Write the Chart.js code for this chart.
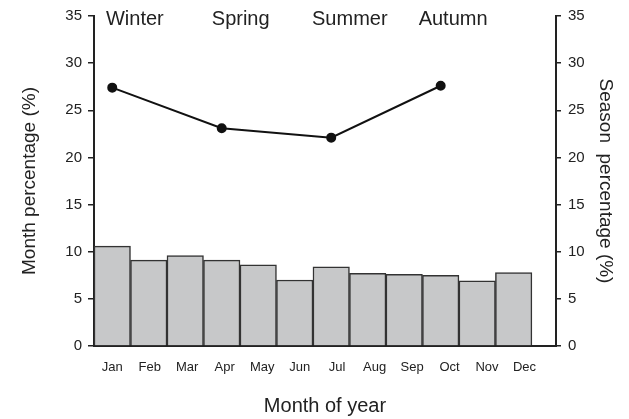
<!DOCTYPE html>
<html>
<head>
<meta charset="utf-8">
<script src="https://cdn.jsdelivr.net/npm/chart.js@4.4.0/dist/chart.umd.min.js"></script>
<style>
  html, body { margin: 0; padding: 0; background: #fff; }
  #wrap { width: 629px; height: 419px; position: relative; }
</style>
</head>
<body>
<div id="wrap"><canvas id="grafico"></canvas></div>
<script>
// ===== DADOS =====
const months = ['Jan', 'Feb', 'Mar', 'Apr', 'May', 'Jun', 'Jul', 'Aug', 'Sep', 'Oct', 'Nov', 'Dec'];
const monthPct = [10.6, 9.1, 9.6, 9.1, 8.6, 7.0, 8.4, 7.7, 7.6, 7.5, 6.9, 7.8];
const seasons = ['Winter', 'Spring', 'Summer', 'Autumn'];
const seasonMonth = [1, 4, 7, 10];   // month number where each season point sits
const seasonPct = [27.4, 23.1, 22.1, 27.6];

const FONT = '"Liberation Sans", Arial, Helvetica, sans-serif';
const INK = '#222';

// season names across the top of the plot
const seasonLabels = {
  id: 'seasonLabels',
  afterDatasetsDraw(chart, args, opts) {
    const { ctx, scales: { x } } = chart;
    ctx.save();
    ctx.font = '20px ' + FONT;
    ctx.fillStyle = INK;
    ctx.textAlign = 'center';
    ctx.textBaseline = 'alphabetic';
    seasons.forEach((s, i) => ctx.fillText(s, x.getPixelForValue(opts.at[i]), opts.baseline));
    ctx.restore();
  }
};

const yAxis = (pos, titulo, tituloPad, tl, pad, largura) => ({
  position: pos,
  min: 0,
  max: 35,
  ticks: { stepSize: 5, color: INK, font: { family: FONT, size: 15 }, padding: pad },
  grid: { drawOnChartArea: false, drawTicks: true, tickLength: tl, color: INK, lineWidth: 1.5 },
  border: { display: true, color: INK, width: 2 },
  title: { display: true, text: titulo, color: INK, font: { family: FONT, size: 19 }, padding: { top: tituloPad, bottom: 0 } },
  afterFit: s => { s.width = largura; }
});

new Chart(document.getElementById('grafico'), {
  data: {
    datasets: [
      {
        type: 'line',
        data: seasonMonth.map((m, i) => ({ x: m, y: seasonPct[i] })),
        yAxisID: 'y2',
        borderColor: '#111',
        borderWidth: 2,
        pointRadius: 4,
        pointBackgroundColor: '#111',
        pointBorderColor: '#111',
        tension: 0
      },
      {
        type: 'bar',
        data: months.map((m, i) => ({ x: i + 1, y: monthPct[i] })),
        yAxisID: 'y',
        backgroundColor: '#c7c8c9',
        borderColor: '#333',
        borderWidth: 1.5,
        categoryPercentage: 1,
        barPercentage: 1
      }
    ]
  },
  options: {
    responsive: true,
    maintainAspectRatio: false,
    animation: false,
    layout: { padding: { top: 14, left: 0, right: 0, bottom: 0 } },
    plugins: {
      legend: { display: false },
      tooltip: { enabled: false },
      seasonLabels: { at: [1.62, 4.52, 7.51, 10.34], baseline: 25 }
    },
    scales: {
      x: {
        type: 'linear',
        position: 'bottom',
        offset: false,
        min: 0.5,
        max: 13.16,
        afterBuildTicks: s => { s.ticks = months.map((m, i) => ({ value: 1 + i * 1.027 })); },
        ticks: {
          callback: (v, i) => months[i],
          autoSkip: false,
          maxRotation: 0,
          color: INK,
          font: { family: FONT, size: 13 },
          padding: 14
        },
        grid: { display: false, drawTicks: false },
        border: { display: true, color: INK, width: 2 },
        title: { display: true, text: 'Month of year', color: INK, font: { family: FONT, size: 20 }, padding: { top: 0, bottom: 1 } },
        afterFit: s => { s.height = 73; }
      },
      y: yAxis('left', 'Month percentage (%)', 18, 6, 6, 94),
      y2: yAxis('right', 'Season  percentage (%)', 12, 5, 7, 73)
    }
  },
  plugins: [seasonLabels]
});
</script>
</body>
</html>
